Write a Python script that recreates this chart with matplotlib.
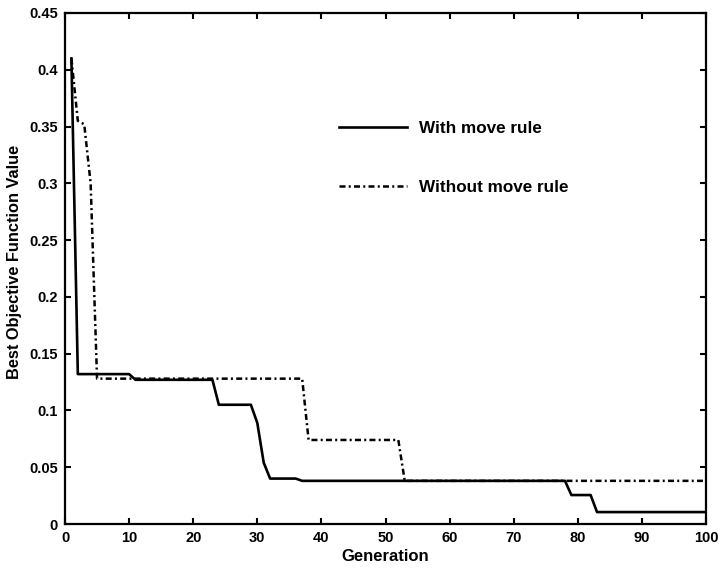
import matplotlib
matplotlib.use("Agg")
import matplotlib.pyplot as plt

plt.rcParams['font.family'] = ['Liberation Sans', 'DejaVu Sans']
plt.rcParams['font.weight'] = 'bold'

# Best objective value per generation (breakpoints of the convergence curves)
gen_with = [1, 2, 10, 11, 23, 24, 29, 30, 31, 32, 36, 37, 78, 79, 82, 83, 100]
val_with = [0.41, 0.132, 0.132, 0.127, 0.127, 0.105, 0.105, 0.089, 0.054, 0.040,
            0.040, 0.038, 0.038, 0.0255, 0.0255, 0.0105, 0.0105]

gen_without = [1, 2, 3, 4, 5, 37, 38, 52, 53, 100]
val_without = [0.41, 0.355, 0.352, 0.30, 0.128, 0.128, 0.074, 0.074, 0.038, 0.038]

x_ticks = [0, 10, 20, 30, 40, 50, 60, 70, 80, 90, 100]
y_ticks = [0, 0.05, 0.1, 0.15, 0.2, 0.25, 0.3, 0.35, 0.4, 0.45]
y_tick_labels = ['0', '0.05', '0.1', '0.15', '0.2', '0.25', '0.3', '0.35', '0.4', '0.45']

fig = plt.figure(figsize=(7.21, 5.68), dpi=100)
ax = fig.add_axes([65 / 721, 44 / 568, 641 / 721, 511 / 568])

ax.plot(gen_with, val_with, color='black', lw=1.9, label='With move rule')
ax.plot(gen_without, val_without, color='black', lw=1.8,
        linestyle=(0, (2.4, 1.3, 0.8, 1.3)), label='Without move rule')

ax.set_xlim(0, 100)
ax.set_ylim(0, 0.45)
ax.set_xticks(x_ticks)
ax.set_xticklabels([str(t) for t in x_ticks])
ax.set_yticks(y_ticks)
ax.set_yticklabels(y_tick_labels)

ax.tick_params(direction='in', length=4, width=1.5, top=True, right=True,
               labelsize=10.5, pad=5)
for s in ax.spines.values():
    s.set_linewidth(1.6)

ax.set_xlabel('Generation', fontsize=12, fontweight='bold', labelpad=3)
ax.set_ylabel('Best Objective Function Value', fontsize=11.8, fontweight='bold')
ax.yaxis.set_label_coords(-0.067, 0.513)

ax.legend(loc='upper left', bbox_to_anchor=(339 / 721, 1 - 121 / 568),
          bbox_transform=fig.transFigure, frameon=False, fontsize=12.3,
          handlelength=4.0, handletextpad=0.7, labelspacing=2.55,
          borderpad=0, borderaxespad=0)

fig.savefig('out.png', dpi=100)
